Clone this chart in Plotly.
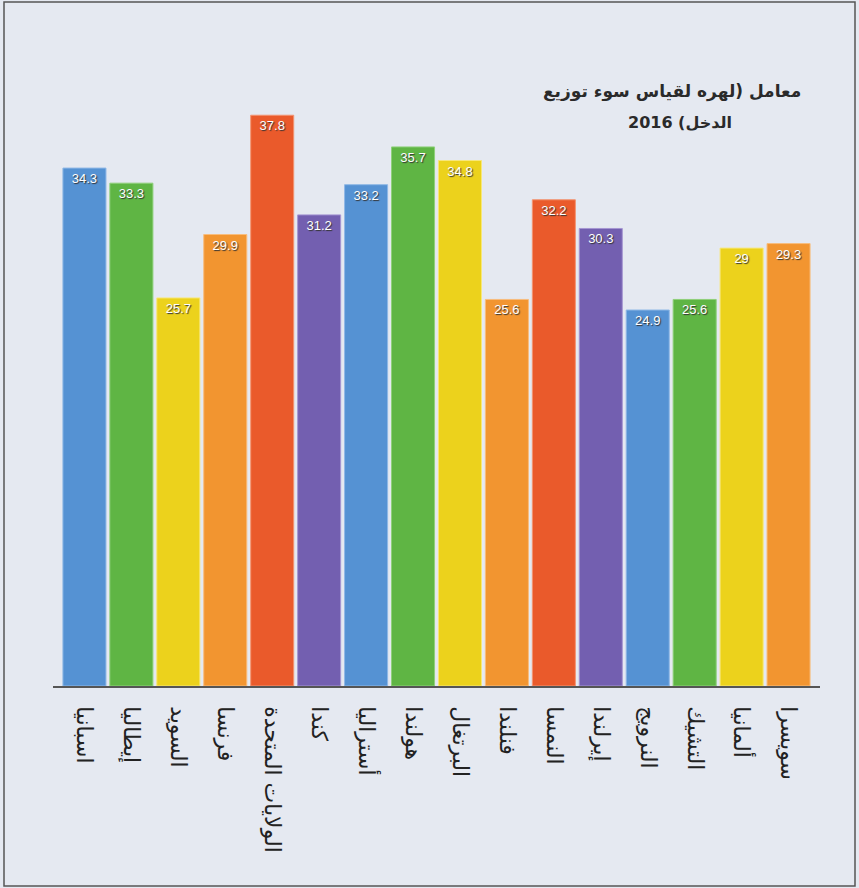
import plotly.graph_objects as go

countries = ["اسبانيا", "إيطاليا", "السويد", "فرنسا", "الولايات المتحدة", "كندا",
             "أستراليا", "هولندا", "البرتغال", "فنلندا", "النمسا", "إيرلندا",
             "النرويج", "التشيك", "ألمانيا", "سويسرا"]
gini = [34.3, 33.3, 25.7, 29.9, 37.8, 31.2, 33.2, 35.7, 34.8, 25.6, 32.2, 30.3,
        24.9, 25.6, 29.0, 29.3]
value_labels = ["34.3", "33.3", "25.7", "29.9", "37.8", "31.2", "33.2", "35.7", "34.8",
                "25.6", "32.2", "30.3", "24.9", "25.6", "29", "29.3"]
title_line1 = "معامل (لهره لقياس سوء توزيع"
title_line2 = "الدخل) 2016"

palette = ["#5592d3", "#5fb544", "#ecd21c", "#f29530", "#ea5a2b", "#735fb0"]
colors = [palette[i % 6] for i in range(len(countries))]
line_colors = ["#8fb8e6", "#8fd07a", "#f7e77a", "#f8bd7d", "#f39572", "#a596d2"]
outline = [line_colors[i % 6] for i in range(len(countries))]

W, H = 859, 888
ml, mr, mt, mb = 53, 39, 82, 202

fig = go.Figure()
fig.add_trace(go.Bar(
    x=countries, y=gini,
    marker=dict(color=colors, line=dict(color=outline, width=1)),
    text=value_labels, textposition="inside", insidetextanchor="end",
    textangle=0,
    textfont=dict(family="Liberation Sans, Arial", size=13, color="white",
                  shadow="1px 1px 1px #333"),
    cliponaxis=False,
))

pw = W - ml - mr
ph = H - mt - mb
fig.add_shape(type="rect", xref="paper", yref="paper",
              x0=(4 - ml) / pw, x1=(855 - ml) / pw,
              y0=(H - mb - 886) / ph, y1=(H - mb - 2) / ph,
              line=dict(color="#555", width=1.5), fillcolor="rgba(0,0,0,0)", layer="below")

fig.add_annotation(text="<b>" + title_line1 + "</b>", xref="paper", yref="paper",
                   x=(672 - ml) / pw, y=(H - mb - 92) / ph, xanchor="center", yanchor="middle",
                   showarrow=False, font=dict(family="DejaVu Sans", size=17, color="#2a2a2a"))
fig.add_annotation(text="<b>" + title_line2 + "</b>", xref="paper", yref="paper",
                   x=(680 - ml) / pw, y=(H - mb - 123) / ph, xanchor="center", yanchor="middle",
                   showarrow=False, font=dict(family="DejaVu Sans", size=16, color="#2a2a2a"))

fig.update_layout(
    width=W, height=H,
    margin=dict(l=ml, r=mr, t=mt, b=mb, pad=0),
    paper_bgcolor="#e5e9f1", plot_bgcolor="#e5e9f1",
    bargap=0.083,
    showlegend=False,
    xaxis=dict(range=[-0.67, 15.67], tickangle=90, showgrid=False, showline=True,
               linecolor="#555", linewidth=1.5, ticks="", ticklen=0,
               ticklabelstandoff=14,
               tickfont=dict(family="DejaVu Sans", size=22, color="#222")),
    yaxis=dict(range=[0, 40], visible=False, showgrid=False, zeroline=False),
)

fig.write_html("out.html")
